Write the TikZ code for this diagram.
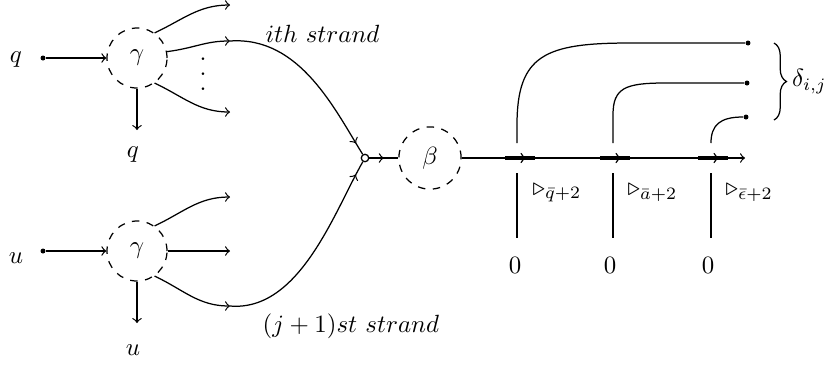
\documentclass[tikz,border=0pt]{standalone}
\usetikzlibrary{decorations.markings,decorations.pathreplacing}
\begin{document}
\begin{tikzpicture}[x=0.4016pt,y=-0.4016pt,
  proc/.style={circle,draw,dashed,minimum size=24.1pt,inner sep=0pt},
  dotn/.style={circle,fill,inner sep=0pt,minimum size=2pt},
  jnode/.style={circle,draw,inner sep=0pt,minimum size=3pt},
  lab/.style={inner sep=0pt},
  midarr/.style={postaction={decorate},decoration={markings,mark=at position #1 with {\arrow{>}}}},
  thickseg/.style={line width=1.3pt,postaction={decorate},decoration={markings,mark=at position 0.7 with {\arrow[line width=0.6pt]{>}}}},
  line width=0.5pt
]
\useasboundingbox (0,0) rectangle (828,367);
% gamma nodes
\node[proc] (g1) at (137,58) {$\gamma$};
\node[proc] (g2) at (137,251) {$\gamma$};
\node[proc,minimum size=25pt] (b) at (430,158) {$\beta$};
% inputs
\node[lab] (ql) at (16,60) {$q$};
\node[dotn] (qd) at (43,58) {};
\node[lab] (ul) at (16,258) {$u$};
\node[dotn] (ud) at (43,251) {};
\draw[->] (qd) -- (g1);
\draw[->] (ud) -- (g2);
% outputs down
\coordinate (qa) at (137,130);
\coordinate (ua) at (137,323);
\draw[->] (g1) -- (qa);
\draw[->] (g2) -- (ua);
\node[lab] (qb) at (133,155) {$q$};
\node[lab] (ub) at (133,350) {$u$};
% gamma1 outputs
\coordinate (o1) at (230,5);
\coordinate (o2) at (230,41);
\coordinate (o3) at (230,112);
\draw[->] (g1.55) to[out=25,in=180] (o1);
\draw[->] (g1.12) .. controls (195,48) and (205,41) .. (o2);
\draw[->] (g1.-55) to[out=-25,in=180] (o3);
\node[lab] (vd) at (203,74) {\vbox{\baselineskip=6pt\lineskiplimit=0pt\hbox{.}\hbox{.}\hbox{.}}};
% gamma2 outputs
\coordinate (p1) at (230,197);
\coordinate (p2) at (230,251);
\coordinate (p3) at (230,306);
\draw[->] (g2.55) to[out=25,in=180] (p1);
\draw[->] (g2.east) -- (p2);
\draw[->] (g2.-55) to[out=-25,in=180] (p3);
% junction
\node[jnode] (jn) at (365,158) {};
\draw[midarr=0.93] (o2) .. controls (300,36) and (335,110) .. (jn);
\draw[midarr=0.93] (p3) .. controls (300,312) and (335,210) .. (jn);
\draw[midarr=0.5] (jn) -- (b);
\node[lab,anchor=west] (is) at (265,34) {$ith\ strand$};
\node[lab,anchor=west] (js) at (262,326) {$(j+1)st\ strand$};
% main line
\coordinate (me) at (745,158);
\draw[->] (b) -- (me);
\draw[thickseg] (505,158) -- (535,158);
\draw[thickseg] (600,158) -- (630,158);
\draw[thickseg] (698,158) -- (728,158);
% upper strands
\node[dotn] (e1) at (748,43) {};
\node[dotn] (e2) at (747,83) {};
\node[dotn] (e3) at (746,117) {};
\draw (517,143) -- (517,125) .. controls (517,55) and (545,43) .. (630,43) -- (e1);
\draw (613,143) -- (613,115) .. controls (613,88) and (625,83) .. (665,83) -- (e2);
\draw (711,143) .. controls (711,125) and (720,117) .. (e3);
% lower strands
\draw (517,173) -- (517,238);
\draw (613,173) -- (613,238);
\draw (711,173) -- (711,238);
\node[lab,anchor=west] (t1) at (532,193) {$\triangleright_{\bar{q}+2}$};
\node[lab,anchor=west] (t2) at (627,193) {$\triangleright_{\bar{a}+2}$};
\node[lab,anchor=west] (t3) at (725,193) {$\triangleright_{\bar{\epsilon}+2}$};
\node[lab] (z1) at (515,265) {$0$};
\node[lab] (z2) at (610,265) {$0$};
\node[lab] (z3) at (708,265) {$0$};
% brace
\draw[decorate,decoration={brace,amplitude=5pt}] (774,43) -- (774,120) node[midway,right=7pt,inner sep=0pt] (dl) {$\delta_{i,j}$};
\end{tikzpicture}
\end{document}
